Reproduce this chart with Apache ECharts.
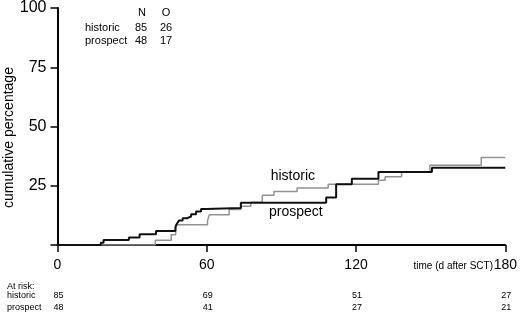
<!DOCTYPE html>
<html>
<head>
<meta charset="utf-8">
<script src="https://cdn.jsdelivr.net/npm/echarts@6/dist/echarts.min.js"></script>
<style>
html,body{margin:0;padding:0;background:#fff;}
#c{width:520px;height:315px;}
</style>
</head>
<body>
<div id="c"></div>
<script>
// ---- data ----
const xTicks = [0, 60, 120, 180];
const yTicks = [25, 50, 75, 100];
const historicDays = [0, 39.3, 45.7, 47.5, 60.3, 61.0, 69.0, 73.7, 77.7, 82.3, 87.0, 96.3, 108.8, 129.0, 131.7, 138.3, 149.7, 170.3, 180];
const historicPct  = [0, 2.0, 4.3, 8.5, 10.2, 12.8, 15.0, 16.4, 18.0, 21.0, 22.6, 24.0, 25.6, 27.3, 28.8, 30.8, 33.7, 36.9, 36.9];
const prospectDays = [0, 17.4, 18.5, 28.7, 33.0, 39.6, 47.4, 48.0, 48.8, 50.3, 52.0, 53.7, 55.7, 57.7, 59.7, 73.7, 108.0, 112.0, 118.3, 129.0, 150.5, 180];
const prospectPct  = [0, 1.0, 2.1, 3.2, 4.5, 5.9, 7.5, 9.0, 10.3, 11.3, 12.0, 13.0, 14.1, 15.2, 15.6, 17.8, 20.0, 25.6, 28.0, 30.8, 32.6, 32.6];
const groups = ['historic', 'prospect'];
const groupN = [85, 48];
const groupO = [26, 17];
const riskTimes = [0, 60, 120, 180];
const riskHistoric = [85, 69, 51, 27];
const riskProspect = [48, 41, 27, 21];
const curveLabelPos = { historic: [94.6, 29.0], prospect: [95.8, 13.8] };
const xAxisTitle = 'time (d after SCT)';
const yAxisTitle = 'cumulative percentage';

// ---- chart ----
const FONT = '"Liberation Sans", Arial, Helvetica, sans-serif';
const chart = echarts.init(document.getElementById('c'), null, { renderer: 'canvas' });
const zip = (a, b) => a.map((v, i) => [v, b[i]]);

chart.setOption({
  animation: false,
  backgroundColor: '#ffffff',
  grid: { left: 57.5, right: 12.5, top: 6.7, bottom: 70 },
  xAxis: {
    type: 'value', min: 0, max: 180, interval: 60,
    axisLine: { show: true, onZero: false, lineStyle: { color: '#000', width: 2 } },
    axisTick: { show: true, length: 7, lineStyle: { color: '#000', width: 1.5 } },
    axisLabel: { show: true, margin: 13, fontSize: 14, color: '#000', fontFamily: FONT,
      formatter: v => xTicks.includes(v) ? String(v) : '' },
    splitLine: { show: false }
  },
  yAxis: {
    type: 'value', min: 0, max: 100, interval: 25,
    axisLine: { show: true, onZero: false, lineStyle: { color: '#000', width: 2 } },
    axisTick: { show: true, length: 7, lineStyle: { color: '#000', width: 1.5 } },
    axisLabel: { show: true, margin: 11, fontSize: 16, color: '#000', fontFamily: FONT,
      formatter: v => yTicks.includes(v) ? String(v) : '' },
    splitLine: { show: false }
  },
  series: [
    {
      name: 'historic', type: 'line', step: 'end', showSymbol: false, silent: true,
      data: zip(historicDays, historicPct),
      lineStyle: { color: '#929292', width: 1.5 }, z: 2
    },
    {
      name: 'prospect', type: 'line', step: 'end', showSymbol: false, silent: true,
      data: zip(prospectDays, prospectPct),
      lineStyle: { color: '#111', width: 2 }, z: 3
    }
  ]
});

function px(d, v) { return chart.convertToPixel({ gridIndex: 0 }, [d, v]); }
const g = [];
const txt = (x, y, text, size, align, extra) => Object.assign({
  type: 'text', x: x, y: y,
  style: { text: text, fontSize: size, fontFamily: FONT, fill: '#000', align: align || 'left', verticalAlign: 'middle' }
}, extra || {});

// y axis title
g.push({ type: 'text', x: 9.5, y: 137.5, rotation: Math.PI / 2,
  style: { text: yAxisTitle, fontSize: 14, fontFamily: FONT, fill: '#000', align: 'center', verticalAlign: 'middle' } });
// x axis title
g.push(txt(493, 266, xAxisTitle, 10, 'right'));
// legend table
g.push(txt(142, 12.5, 'N', 11, 'center'));
g.push(txt(166, 12.5, 'O', 11, 'center'));
groups.forEach((name, i) => {
  const y = 27.7 + i * 13.3;
  g.push(txt(85, y, name, 11, 'left'));
  g.push(txt(141, y, String(groupN[i]), 11, 'center'));
  g.push(txt(166, y, String(groupO[i]), 11, 'center'));
});
// curve labels
groups.forEach(name => {
  const p = px(curveLabelPos[name][0], curveLabelPos[name][1]);
  g.push(txt(p[0], p[1], name, 14, 'center'));
});
// at-risk table
g.push(txt(7, 286.5, 'At risk:', 9, 'left'));
[riskHistoric, riskProspect].forEach((arr, r) => {
  const y = 295.5 + r * 12.3;
  g.push(txt(7, y, groups[r], 9, 'left'));
  arr.forEach((n, i) => {
    const p = px(riskTimes[i], 0);
    g.push(txt(p[0] + 1, y, String(n), 9, 'center'));
  });
});
chart.setOption({ graphic: { elements: g } });
</script>
</body>
</html>
